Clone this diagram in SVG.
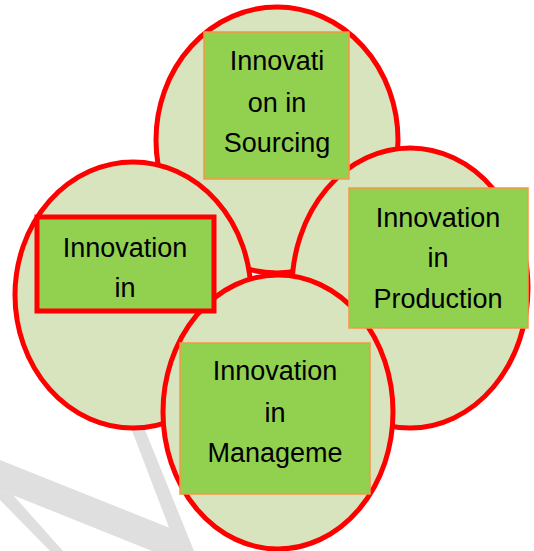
<svg xmlns="http://www.w3.org/2000/svg" width="534" height="551" viewBox="0 0 534 551">
  <style>
    .petal { fill: #d7e4bd; stroke: #ff0000; stroke-width: 5; }
    .box { fill: #92d050; stroke: #f79646; stroke-width: 1.5; }
    .box-hl { fill: #92d050; stroke: #ff0000; stroke-width: 5; }
    .label { font-family: "Liberation Sans", Arial, sans-serif; font-size: 27px; fill: #000000; text-anchor: middle; }
    .mark { fill: #dfdfdf; }
  </style>

  <!-- faint background watermark strokes -->
  <g id="watermark">
    <polygon class="mark" points="128,420 141,420 194,551 178,551"/>
    <polygon class="mark" points="0,460 175,530 185,551 152,551 0,490"/>
    <polygon class="mark" points="0,490 13,495 63,551 50,551 0,500"/>
  </g>

  <!-- overlapping ellipses, back to front -->
  <g id="petals">
    <ellipse id="petal-top" class="petal" cx="277" cy="140" rx="121" ry="133"/>
    <ellipse id="petal-left" class="petal" cx="133" cy="295" rx="118" ry="133"/>
    <ellipse id="petal-right" class="petal" cx="410" cy="288" rx="118" ry="140"/>
    <ellipse id="petal-bottom" class="petal" cx="278" cy="412" rx="115" ry="137"/>
  </g>

  <g id="node-sourcing">
    <rect class="box" x="204" y="32" width="145" height="147"/>
    <text class="label" x="277" y="70">Innovati</text>
    <text class="label" x="277" y="112">on in</text>
    <text class="label" x="277" y="152">Sourcing</text>
  </g>

  <g id="node-left">
    <rect class="box-hl" x="37" y="217" width="177" height="94"/>
    <text class="label" x="125" y="257">Innovation</text>
    <text class="label" x="125" y="297">in</text>
  </g>

  <g id="node-production">
    <rect class="box" x="349" y="188" width="179" height="140"/>
    <text class="label" x="438" y="227">Innovation</text>
    <text class="label" x="438" y="267">in</text>
    <text class="label" x="438" y="308">Production</text>
  </g>

  <g id="node-management">
    <rect class="box" x="180" y="343" width="190" height="151"/>
    <text class="label" x="275" y="380">Innovation</text>
    <text class="label" x="275" y="422">in</text>
    <text class="label" x="275" y="462">Manageme</text>
  </g>
</svg>
